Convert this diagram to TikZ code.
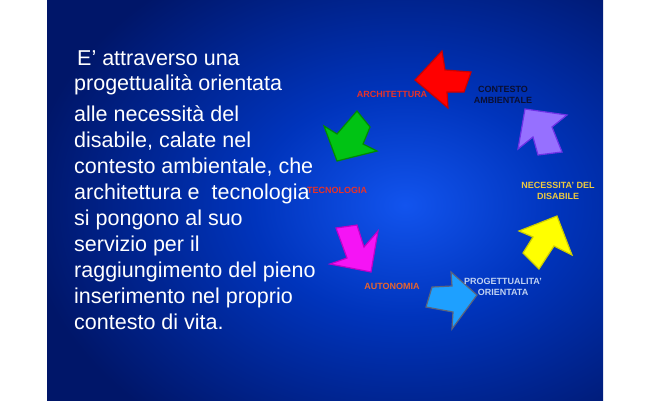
\documentclass[tikz,border=0pt]{standalone}
\usepackage{fontspec}
\setmainfont{Liberation Sans}
\definecolor{bgdark}{RGB}{0,22,105}
\definecolor{bgmid}{RGB}{0,52,188}
\definecolor{bglight}{RGB}{18,84,238}
\definecolor{archred}{RGB}{232,50,40}
\definecolor{navytxt}{RGB}{10,15,50}
\definecolor{goldtxt}{RGB}{238,202,62}
\definecolor{orangetxt}{RGB}{232,100,45}
\definecolor{paletxt}{RGB}{192,210,242}
\pgfdeclareradialshading{bgglow}{\pgfpoint{0bp}{0bp}}{color(0bp)=(bglight); color(10bp)=(bgmid); color(25bp)=(bgdark); color(50bp)=(bgdark)}

\begin{document}
\begin{tikzpicture}[x=1pt,y=-1pt,
  lab/.style={font=\fontsize{9}{11}\selectfont\bfseries, align=center, inner sep=0pt},
  txt/.style={font=\fontsize{21.5}{26}\selectfont, text=white, align=left, inner sep=0pt, anchor=base west},
  blk/.style={line width=1.2pt, line join=miter}]
\useasboundingbox (0,0) rectangle (650,400);
% background
\fill[bgdark] (47,-2) rectangle (603,402);
\begin{scope}
\clip (47,-2) rectangle (603,402);
\shade[shading=bgglow] (405,205) ellipse (380 and 280);
\end{scope}

% text on the left (anchored at the last line)
\node[txt] (intro) at (74,90.5) {\hspace{3pt}E’ attraverso una\\[-0.5pt]progettualità orientata};
\node[txt] (body) at (74,329) {alle necessità del\\disabile, calate nel\\contesto ambientale, che\\architettura e \ tecnologia\\si pongono al suo\\servizio per il\\raggiungimento del pieno\\inserimento nel proprio\\contesto di vita.};

% arrows
\filldraw[blk, fill={rgb,255:red,255;green,0;blue,0}, draw={rgb,255:red,205;green,0;blue,0}]
  (415,80)--(442,51)--(445,70)--(471,72)--(464,92)--(447,92)--(448,108)--cycle;
\filldraw[blk, fill={rgb,255:red,150;green,112;blue,255}, draw={rgb,255:red,110;green,50;blue,230}]
  (525,109)--(567,115)--(552,127)--(562,152)--(538,155)--(533,137)--(518,149)--cycle;
\filldraw[blk, fill={rgb,255:red,255;green,255;blue,0}, draw={rgb,255:red,205;green,205;blue,0}]
  (557,216)--(572,255)--(554,246)--(539,269)--(523,253)--(533,237)--(519,231)--cycle;
\filldraw[blk, fill={rgb,255:red,30;green,160;blue,255}, draw={rgb,255:red,90;green,100;blue,125}]
  (477,295)--(452,329)--(453,312)--(426,307)--(432,287)--(452,286)--(451,272)--cycle;
\filldraw[blk, fill={rgb,255:red,245;green,20;blue,245}, draw={rgb,255:red,190;green,0;blue,200}]
  (371,272)--(330,264)--(347,258)--(336,228)--(357,225)--(364,247)--(378,231)--cycle;
\filldraw[blk, fill={rgb,255:red,0;green,195;blue,20}, draw={rgb,255:red,0;green,140;blue,0}]
  (337,161)--(324,126)--(337,134)--(357,111)--(370,127)--(363,144)--(377,151)--cycle;

% labels
\node[lab, text=archred] (arch) at (392,94) {ARCHITETTURA};
\node[lab, text=navytxt] (amb) at (503,94.5) {CONTESTO\\AMBIENTALE};
\node[lab, text=goldtxt] (nec) at (558,190.5) {NECESSITA' DEL\\DISABILE};
\node[lab, text=paletxt] (prog) at (503,286.5) {PROGETTUALITA'\\ORIENTATA};
\node[lab, text=orangetxt] (aut) at (392,286) {AUTONOMIA};
\node[lab, text=archred] (tec) at (337,190.5) {TECNOLOGIA};
\end{tikzpicture}
\end{document}
